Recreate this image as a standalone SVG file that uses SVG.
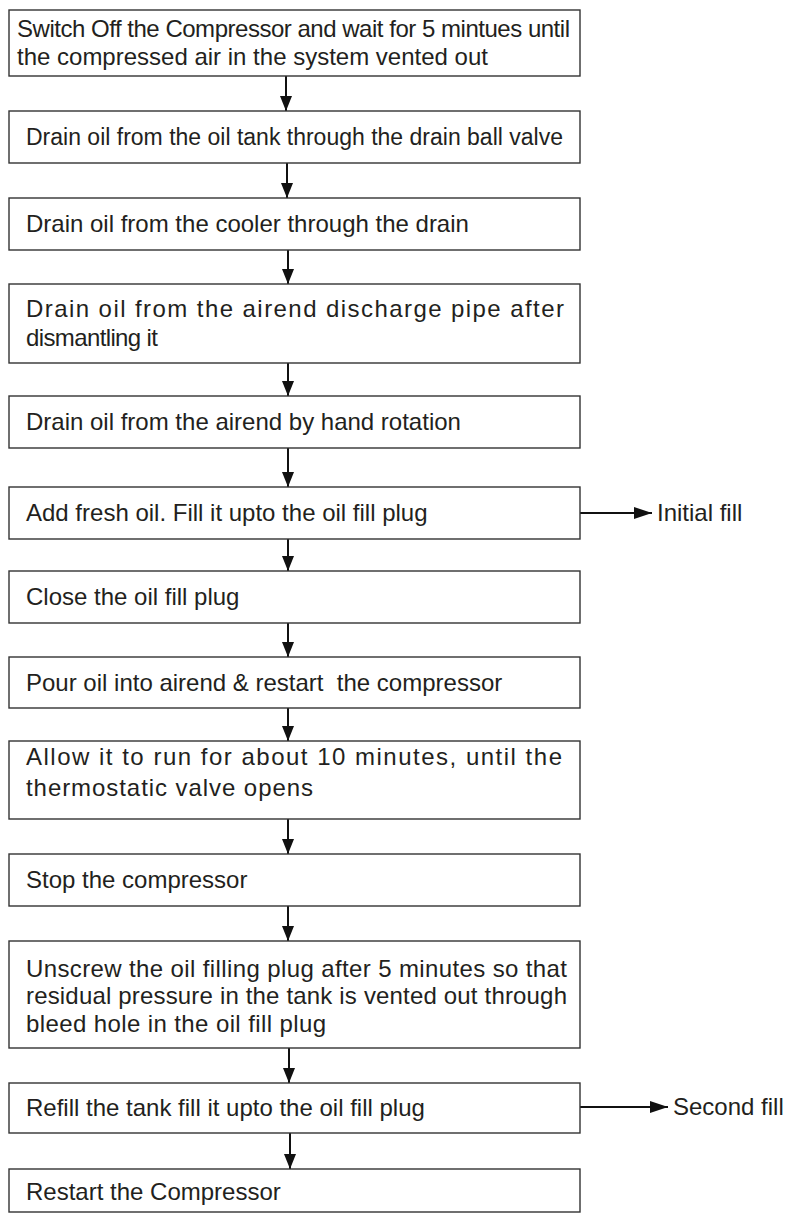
<svg xmlns="http://www.w3.org/2000/svg" width="785" height="1214" viewBox="0 0 785 1214">
<style>
.box{fill:#fff;stroke:#333;stroke-width:1.4}
.t{font-family:"Liberation Sans",Arial,sans-serif;font-size:24px;fill:#231f20}
.c{stroke:#111;stroke-width:2;fill:none}
</style>
<defs>
<marker id="ah" markerUnits="userSpaceOnUse" markerWidth="16" markerHeight="12" refX="15" refY="6" orient="auto">
<path d="M0,0 L15,6 L0,12 z" fill="#111"/>
</marker>
<marker id="ahs" markerUnits="userSpaceOnUse" markerWidth="19" markerHeight="12" refX="18" refY="6" orient="auto">
<path d="M0,0 L18,6 L0,12 z" fill="#111"/>
</marker>
</defs>
<rect width="785" height="1214" fill="#fff"/>
<g id="connectors">
<line class="c" x1="286" y1="76" x2="286" y2="111" marker-end="url(#ah)"/>
<line class="c" x1="287" y1="163" x2="287" y2="198" marker-end="url(#ah)"/>
<line class="c" x1="288" y1="250" x2="288" y2="284" marker-end="url(#ah)"/>
<line class="c" x1="288" y1="363" x2="288" y2="396" marker-end="url(#ah)"/>
<line class="c" x1="288" y1="448" x2="288" y2="487" marker-end="url(#ah)"/>
<line class="c" x1="288" y1="539" x2="288" y2="571" marker-end="url(#ah)"/>
<line class="c" x1="288" y1="623" x2="288" y2="657" marker-end="url(#ah)"/>
<line class="c" x1="288" y1="708" x2="288" y2="741" marker-end="url(#ah)"/>
<line class="c" x1="288" y1="819" x2="288" y2="854" marker-end="url(#ah)"/>
<line class="c" x1="288" y1="906" x2="288" y2="941" marker-end="url(#ah)"/>
<line class="c" x1="289" y1="1048" x2="289" y2="1083" marker-end="url(#ah)"/>
<line class="c" x1="290" y1="1133" x2="290" y2="1169" marker-end="url(#ah)"/>
<line class="c" x1="580" y1="513" x2="652" y2="513" marker-end="url(#ahs)"/>
<line class="c" x1="580" y1="1107" x2="668" y2="1107" marker-end="url(#ahs)"/>
</g>
<g id="n1"><rect class="box" x="9" y="10" width="571" height="66"/>
<text class="t" x="17" y="37" textLength="553" lengthAdjust="spacing">Switch Off the Compressor and wait for 5 mintues until</text>
<text class="t" x="17" y="65">the compressed air in the system vented out</text></g>
<g id="n2"><rect class="box" x="9" y="111" width="571" height="52"/>
<text class="t" x="26" y="145" style="font-size:23px">Drain oil from the oil tank through the drain ball valve</text></g>
<g id="n3"><rect class="box" x="9" y="198" width="571" height="52"/>
<text class="t" x="26" y="232">Drain oil from the cooler through the drain</text></g>
<g id="n4"><rect class="box" x="9" y="284" width="571" height="79"/>
<text class="t" x="26" y="317" textLength="538" lengthAdjust="spacing">Drain oil from the airend discharge pipe after</text>
<text class="t" x="26" y="346" textLength="132" lengthAdjust="spacing">dismantling it</text></g>
<g id="n5"><rect class="box" x="9" y="396" width="571" height="52"/>
<text class="t" x="26" y="430">Drain oil from the airend by hand rotation</text></g>
<g id="n6"><rect class="box" x="9" y="487" width="571" height="52"/>
<text class="t" x="26" y="521">Add fresh oil. Fill it upto the oil fill plug</text></g>
<g id="n7"><rect class="box" x="9" y="571" width="571" height="52"/>
<text class="t" x="26" y="605">Close the oil fill plug</text></g>
<g id="n8"><rect class="box" x="9" y="657" width="571" height="51"/>
<text class="t" x="26" y="691">Pour oil into airend &amp; restart&#160; the compressor</text></g>
<g id="n9"><rect class="box" x="9" y="741" width="571" height="78"/>
<text class="t" x="26" y="765" textLength="536" lengthAdjust="spacing">Allow it to run for about 10 minutes, until the</text>
<text class="t" x="26" y="796" textLength="287" lengthAdjust="spacing">thermostatic valve opens</text></g>
<g id="n10"><rect class="box" x="9" y="854" width="571" height="52"/>
<text class="t" x="26" y="888">Stop the compressor</text></g>
<g id="n11"><rect class="box" x="9" y="941" width="571" height="107"/>
<text class="t" x="26" y="977" textLength="541" lengthAdjust="spacing">Unscrew the oil filling plug after 5 minutes so that</text>
<text class="t" x="26" y="1004" textLength="541" lengthAdjust="spacing">residual pressure in the tank is vented out through</text>
<text class="t" x="26" y="1032" textLength="300" lengthAdjust="spacing">bleed hole in the oil fill plug</text></g>
<g id="n12"><rect class="box" x="9" y="1083" width="571" height="50"/>
<text class="t" x="26" y="1116">Refill the tank fill it upto the oil fill plug</text></g>
<g id="n13"><rect class="box" x="9" y="1169" width="571" height="43"/>
<text class="t" x="26" y="1200">Restart the Compressor</text></g>
<g id="lbl1"><text class="t" x="657" y="521">Initial fill</text></g>
<g id="lbl2"><text class="t" x="673" y="1115">Second fill</text></g>
</svg>
